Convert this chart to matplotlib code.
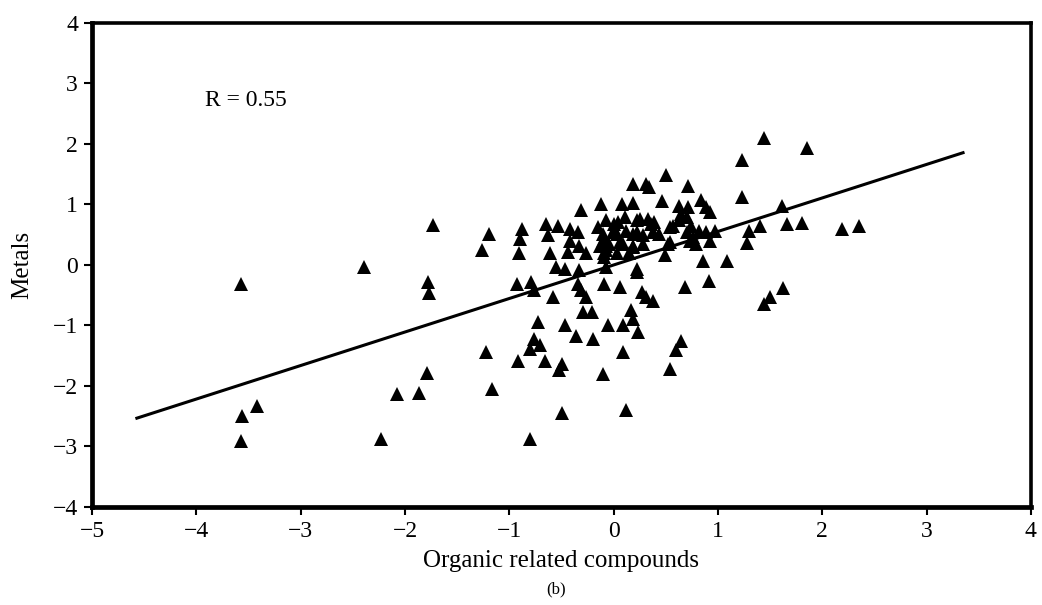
import matplotlib.pyplot as plt
import numpy as np

plt.rcParams['font.family'] = ['Liberation Serif', 'DejaVu Serif']

# factor scores (organic related compounds vs metals)
organic = [
    -3.57, -2.39, -1.78, -1.77, -1.79, -2.08, -1.87, -2.23, -3.42, -3.56, -3.57, -1.73,
    -1.19, -1.26, -0.88, -0.90, -0.91, -0.65, -0.53, -0.63, -0.61, -0.31, -0.12, -0.42,
    -0.34, -0.42, -0.33, -0.44, -0.26, -0.15, -0.13, -0.09, -0.10, -0.07, -0.09, -0.55,
    -0.47, -0.33, -0.07,
    0.50, 0.19, 0.31, 0.34, 0.71, 0.08, 0.19, 0.46, 0.63, 0.71, 0.84, 0.89, 0.92,
    -0.07, 0.04, 0.11, 0.25, 0.33, 0.39, 0.00, 0.22, 0.36,
    -0.10, -0.01, 0.12, 0.22, 0.28, 0.38, 0.03, 0.19,
    -0.07, 0.06, 0.19, 0.28, -0.04, 0.09, 0.03, 0.15, 0.19,
    0.44, 0.54, 0.49, 0.52,
    0.57, 0.63, 0.70, 0.74, 0.70, 0.76, 0.54, 0.65, 0.82, 0.73, 0.79, 0.89, 0.97, 0.92,
    0.22, 0.86,
    1.44, 1.85, 1.23, 1.23, 1.61, 1.40, 1.30, 1.28, 1.66, 1.81, 2.19, 2.35, 1.09, 0.91,
    1.62, 1.50, 1.44,
    -0.93, -0.79, -0.76, -0.58, -0.34, -0.31, -0.26, -0.29, -0.21, -0.09, -0.72, -0.47,
    -0.36, -0.20, -0.76, -0.71, -0.80, -1.22, -0.92, -0.66, -0.49, -0.52, -0.10, -0.05,
    0.06, 0.22, 0.27, 0.31, 0.38, 0.68, 0.17, 0.19, 0.09, 0.23, 0.65, 0.60, 0.09, 0.54,
    -1.17, -0.49, 0.12, -0.80,
]
metals = [
    -0.31, -0.04, -0.28, -0.47, -1.79, -2.14, -2.12, -2.87, -2.33, -2.50, -2.91, 0.66,
    0.52, 0.25, 0.60, 0.43, 0.19, 0.68, 0.65, 0.49, 0.19, 0.91, 1.01, 0.60,
    0.54, 0.40, 0.32, 0.21, 0.19, 0.62, 0.32, 0.19, 0.40, 0.24, 0.13, -0.04,
    -0.06, -0.09, -0.04,
    1.48, 1.34, 1.34, 1.29, 1.31, 1.01, 1.02, 1.05, 0.98, 0.96, 1.07, 0.96, 0.87,
    0.74, 0.71, 0.79, 0.76, 0.76, 0.71, 0.68, 0.74, 0.68,
    0.52, 0.54, 0.57, 0.54, 0.49, 0.54, 0.52, 0.52,
    0.32, 0.38, 0.32, 0.35, 0.35, 0.35, 0.19, 0.19, 0.29,
    0.52, 0.38, 0.16, 0.35,
    0.65, 0.74, 0.79, 0.65, 0.54, 0.46, 0.62, 0.85, 0.57, 0.40, 0.35, 0.54, 0.57, 0.40,
    -0.06, 0.07,
    2.10, 1.94, 1.73, 1.12, 0.97, 0.65, 0.56, 0.36, 0.67, 0.69, 0.59, 0.65, 0.07, -0.26,
    -0.38, -0.53, -0.64,
    -0.31, -0.28, -0.42, -0.53, -0.31, -0.42, -0.53, -0.78, -0.78, -0.31, -0.95, -1.00,
    -1.17, -1.22, -1.22, -1.33, -1.39, -1.44, -1.58, -1.58, -1.63, -1.74, -1.80, -1.00,
    -0.37, -0.12, -0.45, -0.53, -0.59, -0.37, -0.75, -0.89, -1.00, -1.11, -1.25, -1.41,
    -1.44, -1.72,
    -2.05, -2.45, -2.40, -2.87,
]

# regression line
fit_x = [-4.57, 3.35]
slope = 0.554
intercept = 0.0
r_value = 0.55

fig = plt.figure(figsize=(10.42, 6.05), dpi=100)
ax = fig.add_axes([0.0883, 0.162, 0.901, 0.800])

ax.plot(organic, metals, linestyle='none', marker='^', color='black',
        markersize=10, markeredgewidth=0)
fx = np.array(fit_x)
ax.plot(fx, slope * fx + intercept, color='black', linewidth=2.2)

ax.text(-3.92, 2.72, f'R = {r_value:.2f}', fontsize=17, va='center', ha='left')

ax.set_xlim(-5, 4)
ax.set_ylim(-4, 4)
ax.set_xticks(range(-5, 5))
ax.set_yticks(range(-4, 5))
ax.set_xticklabels([f'\u2212{abs(v)}' if v < 0 else str(v) for v in range(-5, 5)])
ax.set_yticklabels([f'\u2212{abs(v)}' if v < 0 else str(v) for v in range(-4, 5)])
ax.tick_params(direction='out', length=6, width=1.5, labelsize=17, pad=4,
               top=False, right=False)

for side in ['left', 'bottom']:
    ax.spines[side].set_linewidth(3.4)
for side in ['top', 'right']:
    ax.spines[side].set_linewidth(2.6)

ax.set_xlabel('Organic related compounds', fontsize=18, labelpad=6)
ax.set_ylabel('Metals', fontsize=18, labelpad=14)

fig.text(0.534, 0.025, '(b)', fontsize=12, ha='center', va='center')

fig.savefig('out.png', dpi=100)
